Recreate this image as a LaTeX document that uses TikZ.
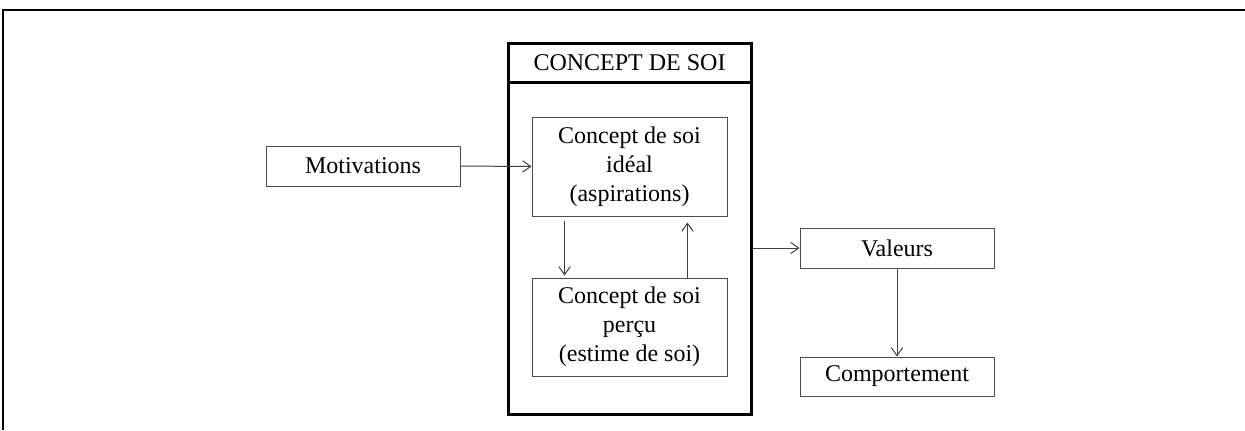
\documentclass[tikz,border=0pt]{standalone}
\usepackage{fontspec}
\setmainfont{Liberation Serif}
\usetikzlibrary{positioning,arrows.meta}

\tikzset{
  txt/.style={font=\fontsize{18}{21.75}\selectfont},
  box/.style={txt, draw=black!70, line width=0.75pt, inner sep=0pt, align=center, minimum width=145.5pt, minimum height=30pt},
  ibox/.style={box, minimum width=146.25pt, minimum height=74.25pt},
  thickbox/.style={txt, draw=black, line width=2.25pt, inner sep=0pt, minimum width=182.25pt},
  arr/.style={-{Straight Barb[length=6pt,width=8.5pt,line width=0.75pt]}, draw=black!75, line width=0.75pt}
}

\begin{document}
\begin{tikzpicture}[x=0.75pt,y=-0.75pt]
		\useasboundingbox (0,0) rectangle (1245,430);
		\draw[line width=1.5pt] (3,430) -- (3,10) -- (1245,10);

		% concept de soi
		\node[thickbox, minimum height=249pt] (soi) at (629.5,248) {};
		\node[thickbox, minimum height=29.25pt] (soititle) at (629.5,62.5) {CONCEPT DE SOI};
		\node[ibox] (ideal) at (629.5,166.5) {Concept de soi\\id\'eal\\(aspirations)};
		\node[ibox, minimum height=73.5pt] (percu) at (629.5,327) {Concept de soi\\per\c{c}u\\(estime de soi)};

		\node[box] (motiv) at (363,166) {Motivations};
		\node[box] (valeurs) at (897,248) {Valeurs};
		\node[box, minimum height=29.25pt] (comport) at (897,376.5) {Comportement};

		\draw[arr] (motiv.east) -- (ideal.west);
		\draw[arr] ([xshift=24.75pt,yshift=-3pt]ideal.south west) -- ([xshift=24.75pt,yshift=1.5pt]percu.north west);
		\draw[arr] ([xshift=-30pt]percu.north east) -- ([xshift=-30pt,yshift=-4.5pt]ideal.south east);
		\draw[arr] (soi.east) -- (valeurs.west);
		\draw[arr] (valeurs.south) -- (comport.north);
\end{tikzpicture}
\end{document}
